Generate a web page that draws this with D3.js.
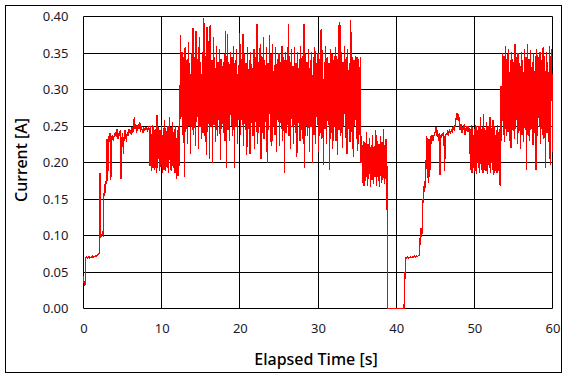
<!DOCTYPE html>
<html><head><meta charset="utf-8">
<script src="https://cdn.jsdelivr.net/npm/d3@7"></script>
<style>html,body{margin:0;padding:0;background:#fff;} svg{display:block;}</style>
</head><body>
<svg id="chart" width="567" height="378"></svg>
<script>
// sampling interval of the logged current [s]
const sampleStep = 0.1;

// 0.0 – 8.9 s : start-up and first plateau
const startupA = [
0.045,0.032,0.033,0.070,0.071,0.069,0.070,0.071,0.069,0.070,
0.071,0.070,0.072,0.070,0.071,0.072,0.071,0.072,0.073,0.074,
0.076,0.185,0.097,0.100,0.103,0.101,0.152,0.170,0.158,0.176,
0.232,0.174,0.236,0.228,0.240,0.176,0.234,0.238,0.230,0.236,
0.238,0.242,0.235,0.246,0.232,0.240,0.236,0.244,0.178,0.232,
0.240,0.212,0.236,0.244,0.238,0.228,0.242,0.236,0.246,0.240,
0.244,0.238,0.248,0.240,0.250,0.262,0.246,0.252,0.240,0.248,
0.252,0.246,0.256,0.242,0.250,0.244,0.240,0.248,0.243,0.247,
0.245,0.248,0.242,0.250,0.246,0.195,0.250,0.188,0.252,0.192];

// 9.0 – 11.9 s
const lowBurstA = [
0.250,0.190,0.246,0.186,0.265,0.192,0.248,0.188,0.244,0.194,
0.252,0.186,0.247,0.190,0.258,0.188,0.243,0.192,0.250,0.185,
0.262,0.190,0.248,0.188,0.255,0.192,0.246,0.186,0.250,0.178];

// 12.0 – 34.9 s
const highBurstA = [
0.245,0.182,0.250,0.195,0.374,0.262,0.352,0.238,0.345,0.180,
0.358,0.242,0.340,0.226,0.365,0.250,0.336,0.212,0.350,0.244,
0.384,0.238,0.345,0.222,0.380,0.255,0.342,0.218,0.372,0.248,
0.338,0.232,0.352,0.240,0.398,0.236,0.346,0.210,0.385,0.242,
0.366,0.205,0.388,0.248,0.340,0.200,0.372,0.252,0.344,0.228,
0.360,0.236,0.338,0.258,0.356,0.203,0.342,0.246,0.332,0.240,
0.348,0.230,0.380,0.192,0.376,0.244,0.338,0.230,0.352,0.250,
0.345,0.236,0.360,0.193,0.340,0.248,0.355,0.226,0.334,0.258,
0.378,0.238,0.342,0.252,0.376,0.222,0.348,0.244,0.336,0.210,
0.358,0.246,0.340,0.212,0.352,0.254,0.330,0.236,0.356,0.218,
0.344,0.242,0.390,0.226,0.338,0.250,0.362,0.205,0.346,0.240,
0.372,0.232,0.340,0.256,0.358,0.200,0.336,0.244,0.374,0.228,
0.348,0.222,0.362,0.250,0.334,0.238,0.358,0.214,0.342,0.256,
0.350,0.223,0.338,0.246,0.360,0.230,0.344,0.186,0.352,0.240,
0.340,0.252,0.390,0.236,0.346,0.218,0.356,0.248,0.332,0.226,
0.358,0.240,0.336,0.208,0.352,0.254,0.342,0.230,0.360,0.244,
0.346,0.226,0.390,0.193,0.348,0.250,0.338,0.236,0.356,0.214,
0.340,0.248,0.352,0.200,0.344,0.238,0.358,0.226,0.336,0.252,
0.350,0.215,0.342,0.240,0.383,0.232,0.354,0.196,0.338,0.246,
0.360,0.226,0.344,0.252,0.336,0.190,0.356,0.240,0.348,0.218,
0.340,0.248,0.358,0.230,0.346,0.210,0.388,0.244,0.392,0.236,
0.352,0.220,0.338,0.250,0.360,0.234,0.344,0.212,0.356,0.246,
0.336,0.228,0.395,0.242,0.344,0.208,0.340,0.250,0.346,0.232];

// 35.0 – 38.9 s
const lowBurstB = [
0.344,0.216,0.342,0.238,0.345,0.200,0.236,0.172,0.230,0.168,
0.228,0.174,0.242,0.168,0.226,0.178,0.234,0.166,0.224,0.176,
0.238,0.170,0.222,0.180,0.244,0.168,0.230,0.174,0.226,0.166,
0.236,0.172,0.228,0.176,0.246,0.170,0.232,0.178,0.232,0.000];

// 39.0 – 40.9 s
const offPhase = [
0,0,0,0,0,0,0,0,0,0,
0,0,0,0,0,0,0,0,0,0];

// 41.0 – 49.9 s
const startupB = [
0.000,0.034,0.070,0.069,0.070,0.071,0.069,0.070,0.071,0.070,
0.070,0.071,0.070,0.072,0.071,0.070,0.072,0.071,0.072,0.073,
0.073,0.110,0.098,0.102,0.150,0.145,0.175,0.165,0.188,0.236,
0.228,0.172,0.232,0.180,0.236,0.226,0.238,0.230,0.234,0.240,
0.242,0.248,0.236,0.244,0.230,0.240,0.183,0.238,0.234,0.240,
0.236,0.242,0.188,0.234,0.240,0.238,0.244,0.236,0.246,0.240,
0.242,0.246,0.240,0.250,0.244,0.248,0.256,0.262,0.268,0.258,
0.266,0.250,0.244,0.252,0.240,0.248,0.244,0.252,0.238,0.246,
0.248,0.242,0.250,0.244,0.246,0.190,0.252,0.186,0.248,0.192];

// 50.0 – 52.9 s
const lowBurstC = [
0.246,0.188,0.252,0.184,0.244,0.192,0.250,0.186,0.262,0.190,
0.248,0.185,0.266,0.190,0.245,0.188,0.256,0.184,0.250,0.192,
0.262,0.186,0.247,0.190,0.258,0.183,0.250,0.189,0.244,0.186];

// 53.0 – 60.0 s
const highBurstB = [
0.252,0.188,0.246,0.168,0.305,0.230,0.350,0.238,0.346,0.228,
0.360,0.236,0.348,0.242,0.356,0.230,0.340,0.220,0.352,0.244,
0.338,0.232,0.362,0.246,0.344,0.226,0.350,0.240,0.336,0.218,
0.352,0.238,0.340,0.228,0.356,0.244,0.345,0.190,0.362,0.236,
0.342,0.230,0.354,0.246,0.338,0.224,0.350,0.240,0.346,0.190,
0.356,0.236,0.344,0.248,0.352,0.226,0.340,0.238,0.358,0.232,
0.346,0.192,0.352,0.240,0.338,0.228,0.360,0.196,0.342,0.356,
0.214];

const xTicks = [0, 10, 20, 30, 40, 50, 60];
const yTicks = [0, 0.05, 0.10, 0.15, 0.20, 0.25, 0.30, 0.35, 0.40];
const xTitle = "Elapsed Time [s]";
const yTitle = "Current [A]";

const current = [].concat(startupA, lowBurstA, highBurstA, lowBurstB, offPhase, startupB, lowBurstC, highBurstB);
const data = current.map((v, i) => ({ t: i * sampleStep, v }));

const svg = d3.select("#chart");
const FONT = "'Noto Sans', 'Open Sans', sans-serif";

const x = d3.scaleLinear().domain([0, 60]).range([83.5, 552.5]);
const y = d3.scaleLinear().domain([0, 0.40]).range([308.5, 16.5]);
const snap = v => Math.round(v - 0.5) + 0.5;

// outer frame
svg.append("rect").attr("x", 5.5).attr("y", 5.5).attr("width", 556).attr("height", 367)
  .attr("fill", "#fff").attr("stroke", "#000").attr("stroke-width", 1);

// grid
const grid = svg.append("g").attr("stroke", "#000").attr("stroke-width", 1);
grid.selectAll("line.v").data(xTicks).join("line").attr("class", "v")
  .attr("x1", d => snap(x(d))).attr("x2", d => snap(x(d)))
  .attr("y1", y(0.40)).attr("y2", y(0));
grid.selectAll("line.h").data(yTicks).join("line").attr("class", "h")
  .attr("x1", x(0)).attr("x2", snap(x(60)))
  .attr("y1", d => snap(y(d))).attr("y2", d => snap(y(d)));

// data line
svg.append("path").datum(data)
  .attr("fill", "none").attr("stroke", "#ff0000").attr("stroke-width", 1.2)
  .attr("shape-rendering", "crispEdges")
  .attr("d", d3.line().x(d => x(d.t)).y(d => y(d.v)));

// axes (labels only)
const xAxis = svg.append("g").attr("transform", `translate(0,${y(0)})`)
  .call(d3.axisBottom(x).tickValues(xTicks).tickSize(0).tickPadding(15).tickFormat(d3.format("d")));
const yAxis = svg.append("g").attr("transform", `translate(${x(0)},0)`)
  .call(d3.axisLeft(y).tickValues(yTicks).tickSize(0).tickPadding(15).tickFormat(d3.format(".2f")));
[xAxis, yAxis].forEach(a => {
  a.select(".domain").remove();
  a.selectAll("text").attr("font-family", FONT).attr("font-size", 13).attr("fill", "#1a1a2a");
});

// titles
svg.append("text").attr("x", 316).attr("y", 365).attr("text-anchor", "middle")
  .attr("font-family", FONT).attr("font-size", 16).attr("font-weight", 500).attr("fill", "#000").text(xTitle);
svg.append("text").attr("transform", "translate(26.5,160) rotate(-90)").attr("text-anchor", "middle")
  .attr("font-family", FONT).attr("font-size", 16).attr("font-weight", 500).attr("fill", "#000").text(yTitle);
</script>
</body></html>
